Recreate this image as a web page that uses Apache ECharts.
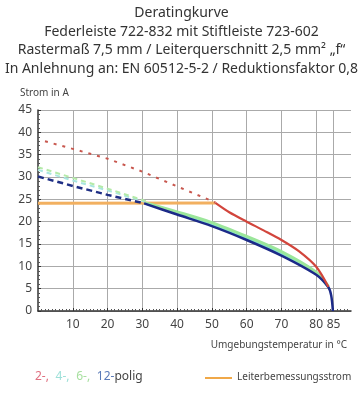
<!DOCTYPE html>
<html><head><meta charset="utf-8">
<script src="https://cdn.jsdelivr.net/npm/echarts@6/dist/echarts.min.js"></script>
<style>html,body{margin:0;padding:0;background:#fff}#c{width:363px;height:400px}</style>
</head><body><div id="c"></div>
<script>
const titleLines = ["Deratingkurve","Federleiste 722-832 mit Stiftleiste 723-602","Rastermaß 7,5 mm / Leiterquerschnitt 2,5 mm² „f“","In Anlehnung an: EN 60512-5-2 / Reduktionsfaktor 0,8"];
const xLabels = [10,20,30,40,50,60,70,80,85];
// 2-polig (red)
const pol2Dashed = [[2,38],[10,36.3],[20,34.1],[30,31.2],[40,27.9],[51,24.3]];
const pol2Solid = [[51,24.2],[55,22.1],[60,20.0],[65,18.0],[70,15.9],[75,13.4],[80,9.9],[83.5,5.4]];
// 4-polig (cyan)
const pol4Dashed = [[0,31.6],[10,29.2],[20,27.0],[31,24.4]];
const pol4Solid = [[31,24.1],[40,21.9],[50,19.4],[60,16.3],[70,12.9],[80,8.4],[83.5,5.4]];
// 6-polig (green)
const pol6Dashed = [[0,32.2],[10,29.8],[20,27.4],[31,24.6]];
const pol6Solid = [[31,24.2],[40,22.2],[50,19.8],[60,16.7],[70,13.3],[80,8.7],[83.5,5.5]];
// 12-polig (blue)
const pol12Dashed = [[0,30.1],[10,28.0],[20,26.0],[30.5,24.1]];
const pol12Solid = [[30.5,24.1],[40,21.6],[50,19.0],[60,15.9],[70,12.4],[80,8.1],[83.5,5.3],[84.3,3.5],[84.8,0]];
// Leiterbemessungsstrom (orange)
const ratedCurrent = [[0,24.1],[51,24.2]];

const chart = echarts.init(document.getElementById('c'), null, {renderer:'canvas'});
const F = "'Liberation Sans Narrow','Noto Sans',sans-serif";
function ln(data,color,width,type,smooth,z){
  return {type:'line',data:data,showSymbol:false,symbol:'none',smooth:smooth||0,z:z||2,
    lineStyle:{color:color,width:width,type:type||'solid',cap:'butt'},animation:false};
}
chart.setOption({
  animation:false,
  title:{text:titleLines.join('\n'),left:'center',top:-1,
    textStyle:{fontFamily:"'Noto Sans',sans-serif",fontSize:14,fontWeight:'normal',color:'#333',lineHeight:18.5}},
  grid:{left:38,right:12,top:110,bottom:89},
  xAxis:{type:'value',min:0,max:90,interval:10,
    axisLine:{show:true,onZero:false,lineStyle:{color:'#333',width:1.5}},
    axisTick:{show:true,customValues:xLabels,length:3,inside:true,lineStyle:{color:'#333'}},
    minorTick:{show:true,splitNumber:10,length:2,lineStyle:{color:'#555'}},
    axisLabel:{customValues:xLabels,fontFamily:F,fontSize:12,color:'#444',margin:8},
    splitLine:{show:true,lineStyle:{color:'#aaa',width:1}}},
  yAxis:{type:'value',min:0,max:45,interval:5,name:'Strom in A',nameLocation:'end',nameGap:12,
    nameTextStyle:{fontFamily:F,fontSize:10,color:'#444',align:'left',padding:[0,0,0,-18]},
    axisLine:{show:true,lineStyle:{color:'#333',width:1.5}},
    axisTick:{show:true,length:3,inside:true,lineStyle:{color:'#333'}},
    minorTick:{show:true,splitNumber:5,length:2,lineStyle:{color:'#555'}},
    axisLabel:{fontFamily:F,fontSize:12,color:'#444',margin:6},
    splitLine:{show:true,lineStyle:{color:'#aaa',width:1}}},
  series:[
    ln(ratedCurrent,'#f2b060',3,'solid',0,2),
    ln(pol4Dashed,'#a8e6df',2,[5,4],0,3),
    ln(pol6Dashed,'#b4eaa8',2,[5,4],0,3),
    ln(pol12Dashed,'#1f2f85',2.5,[6,4],0,4),
    ln(pol2Dashed,'#c8574e',2,[3,6],0,4),
    ln(pol4Solid,'#7fe6d4',3,'solid',0.3,5),
    ln(pol6Solid,'#9be69a',3,'solid',0.3,5),
    ln(pol12Solid,'#1c2a88',2.5,'solid',0.3,6),
    ln(pol2Solid,'#d2453c',2.2,'solid',0.3,7)
  ],
  graphic:[
    {type:'text',right:16,top:340,style:{text:'Umgebungstemperatur in °C',font:"10px "+F,fill:'#444'}},
    {type:'text',left:35,top:371,style:{text:'{a|2-,}  {b|4-,}  {c|6-,}  {d|12-}{e|polig}',
      rich:{a:{fill:'#e07080',font:"12px "+F},b:{fill:'#9ee0d8',font:"12px "+F},c:{fill:'#a8e0a0',font:"12px "+F},d:{fill:'#5a7ab8',font:"12px "+F},e:{fill:'#444',font:"12px "+F}}}},
    {type:'line',shape:{x1:205,y1:378,x2:232,y2:378},style:{stroke:'#f0a848',lineWidth:2}},
    {type:'text',left:237,top:372,style:{text:'Leiterbemessungsstrom',font:"10px "+F,fill:'#444'}}
  ]
});
</script></body></html>
